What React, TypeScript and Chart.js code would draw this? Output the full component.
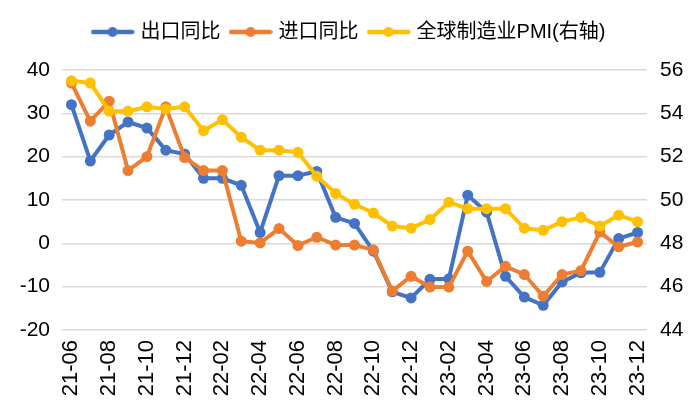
import React, { useEffect, useRef } from "react";
import { Chart, registerables } from "chart.js";

Chart.register(...registerables);

const months = [
  "21-06", "21-07", "21-08", "21-09", "21-10", "21-11", "21-12",
  "22-01", "22-02", "22-03", "22-04", "22-05", "22-06", "22-07", "22-08", "22-09", "22-10", "22-11", "22-12",
  "23-01", "23-02", "23-03", "23-04", "23-05", "23-06", "23-07", "23-08", "23-09", "23-10", "23-11", "23-12",
];

const exportYoY = [
  32, 19, 25, 28, 26.6, 21.5, 20.6,
  15, 15, 13.4, 2.5, 15.6, 15.6, 16.6, 6, 4.6, -1.8, -11.2, -12.6,
  -8.3, -8.2, 11.1, 7.2, -7.6, -12.4, -14.3, -8.9, -6.8, -6.7, 1.1, 2.5,
];

const importYoY = [
  37, 28.2, 32.8, 16.8, 20, 31.5, 19.8,
  16.8, 16.8, 0.5, 0.1, 3.4, -0.5, 1.4, -0.4, -0.4, -1.5, -11, -7.6,
  -10.1, -10.1, -1.8, -8.8, -5.3, -7.2, -12.2, -7.2, -6.3, 2.6, -0.8, 0.3,
];

const globalPMI = [
  55.5, 55.4, 54.1, 54.1, 54.3, 54.2, 54.3,
  53.2, 53.7, 52.9, 52.3, 52.3, 52.2, 51.1, 50.3, 49.8, 49.4, 48.8, 48.7,
  49.1, 49.9, 49.6, 49.6, 49.6, 48.7, 48.6, 49.0, 49.2, 48.8, 49.3, 49.0,
];

const seriesNames = ["出口同比", "进口同比", "全球制造业PMI(右轴)"];
const seriesColors = ["#4472C4", "#ED7D31", "#FFC000"];

const leftTicks = [-20, -10, 0, 10, 20, 30, 40];
const rightTicks = [44, 46, 48, 50, 52, 54, 56];

const FONT = "'Liberation Sans', Arial, 'Noto Sans CJK SC', sans-serif";

function makeMarker(color: string): HTMLCanvasElement {
  const c = document.createElement("canvas");
  c.width = 44;
  c.height = 14;
  const ctx = c.getContext("2d")!;
  ctx.strokeStyle = color;
  ctx.lineWidth = 4.5;
  ctx.lineCap = "round";
  ctx.beginPath();
  ctx.moveTo(2.5, 7);
  ctx.lineTo(41.5, 7);
  ctx.stroke();
  ctx.fillStyle = color;
  ctx.beginPath();
  ctx.arc(22, 7, 5, 0, Math.PI * 2);
  ctx.fill();
  return c;
}

const legendHeightPlugin = {
  id: "legendHeight",
  beforeInit(chart: any) {
    const lg = chart.legend;
    if (!lg) return;
    const orig = lg.fit;
    lg.fit = function () {
      orig.call(lg);
      lg.height = 60;
    };
  },
};

export default function App() {
  const ref = useRef<HTMLCanvasElement | null>(null);

  useEffect(() => {
    if (!ref.current) return;
    const markers = seriesColors.map(makeMarker);
    const mk = (i: number, data: number[], axis: string, order: number) => ({
      label: seriesNames[i],
      data,
      borderColor: seriesColors[i],
      backgroundColor: seriesColors[i],
      borderWidth: 4,
      pointRadius: 5.5,
      pointBorderWidth: 0,
      yAxisID: axis,
      order,
    });
    const chart = new Chart(ref.current, {
      type: "line",
      data: {
        labels: months,
        datasets: [
          mk(0, exportYoY, "y", 3),
          mk(1, importYoY, "y", 2),
          mk(2, globalPMI, "y1", 1),
        ],
      },
      plugins: [legendHeightPlugin],
      options: {
        animation: false,
        responsive: false,
        layout: { padding: { left: 0, right: 0, top: 10, bottom: 0 } },
        plugins: {
          tooltip: { enabled: false },
          legend: {
            position: "top",
            labels: {
              font: { family: FONT, size: 20 },
              color: "#000",
              usePointStyle: true,
              pointStyleWidth: 36,
              padding: 12,
              generateLabels: (ch: any) =>
                ch.data.datasets.map((ds: any, i: number) => ({
                  text: ds.label,
                  fillStyle: ds.backgroundColor,
                  strokeStyle: ds.borderColor,
                  lineWidth: 0,
                  pointStyle: markers[i],
                  hidden: false,
                  datasetIndex: i,
                  fontColor: "#000",
                })),
            },
          },
        },
        scales: {
          x: {
            offset: true,
            grid: { display: false, drawTicks: false },
            border: { display: false },
            afterFit: (s: any) => {
              s.height = 90;
            },
            ticks: {
              autoSkip: false,
              minRotation: 90,
              maxRotation: 90,
              padding: 10,
              color: "#000",
              font: { family: FONT, size: 22 },
              callback: (_v: any, i: number) => (i % 2 === 0 ? months[i] : ""),
            },
          },
          y: {
            position: "left",
            min: -20,
            max: 40,
            afterBuildTicks: (axis: any) => {
              axis.ticks = leftTicks.map((v) => ({ value: v }));
            },
            afterFit: (s: any) => {
              s.width = 62;
            },
            grid: { color: "#D9D9D9", lineWidth: 1.5, drawTicks: false },
            border: { display: false },
            ticks: {
              padding: 12,
              color: "#000",
              font: { family: FONT, size: 21 },
            },
          },
          y1: {
            position: "right",
            min: 44,
            max: 56,
            afterBuildTicks: (axis: any) => {
              axis.ticks = rightTicks.map((v) => ({ value: v }));
            },
            afterFit: (s: any) => {
              s.width = 53;
            },
            grid: { display: false, drawTicks: false },
            border: { display: false },
            ticks: {
              padding: 13,
              color: "#000",
              font: { family: FONT, size: 21 },
            },
          },
        },
      },
    });
    return () => chart.destroy();
  }, []);

  return (
    <div style={{ position: "fixed", left: 0, top: 0, width: 700, height: 420, background: "#fff" }}>
      <canvas ref={ref} width={700} height={420} style={{ width: 700, height: 420 }} />
    </div>
  );
}
